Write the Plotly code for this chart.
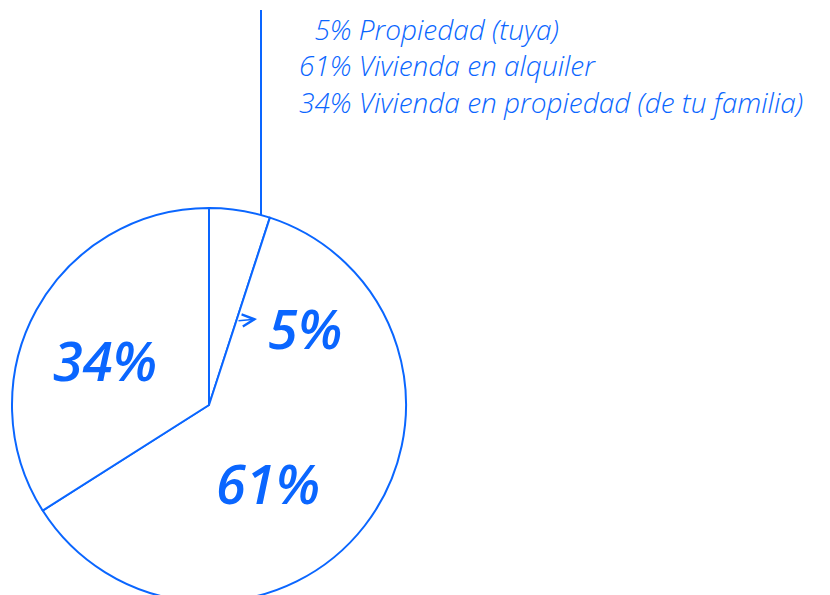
import plotly.graph_objects as go

labels = ["Propiedad (tuya)", "Vivienda en alquiler", "Vivienda en propiedad (de tu familia)"]
values = [5, 61, 34]

BLUE = "#0a66ff"
W, H = 830, 612

def px(x):
    return x / W

def py(y):
    return (H - y) / H

fig = go.Figure()
fig.add_trace(go.Pie(
    labels=labels, values=values, sort=False, direction="clockwise", rotation=0,
    marker=dict(colors=["white"] * 3, line=dict(color=BLUE, width=2)),
    textinfo="none", hoverinfo="label+percent", showlegend=False,
    domain=dict(x=[px(12), px(406)], y=[py(602), py(208)]),
))

# big percent labels inside slices
label_pos = [(305, 328), (268, 483), (105, 360)]
for v, (x, y) in zip(values, label_pos):
    fig.add_annotation(x=px(x), y=py(y), xref="paper", yref="paper", text=f"{v}%",
                       showarrow=False, xanchor="center", yanchor="middle",
                       font=dict(family="Open Sans", size=54, color=BLUE, style="italic", weight=600))

# legend text block
lines = []
for v, lab in zip(values, labels):
    pct = f"{v}%"
    if len(str(v)) == 1:
        pct = "\u2007" + pct
    lines.append(f"{pct} {lab}")
fig.add_annotation(x=px(297), y=py(66), xref="paper", yref="paper", text="<br>".join(lines),
                   showarrow=False, xanchor="left", yanchor="middle", align="left",
                   font=dict(family="Open Sans", size=28, color=BLUE, style="italic", weight=300))

# leader line
fig.add_shape(type="line", xref="paper", yref="paper", x0=px(261), x1=px(261), y0=py(10), y1=py(215),
              line=dict(color=BLUE, width=2))
# small arrow toward 5% label
fig.add_annotation(x=px(257), y=py(319), ax=-20, ay=2, xref="paper", yref="paper",
                   text="", showarrow=True, arrowhead=5,
                   arrowwidth=1.5, arrowcolor=BLUE, arrowsize=1.6)

fig.update_layout(width=W, height=H, margin=dict(l=0, r=0, t=0, b=0),
                  paper_bgcolor="white", plot_bgcolor="white")

fig.write_html("out.html", config={"displayModeBar": False},
               post_script="document.body.style.margin='0';document.body.style.overflow='hidden';")
